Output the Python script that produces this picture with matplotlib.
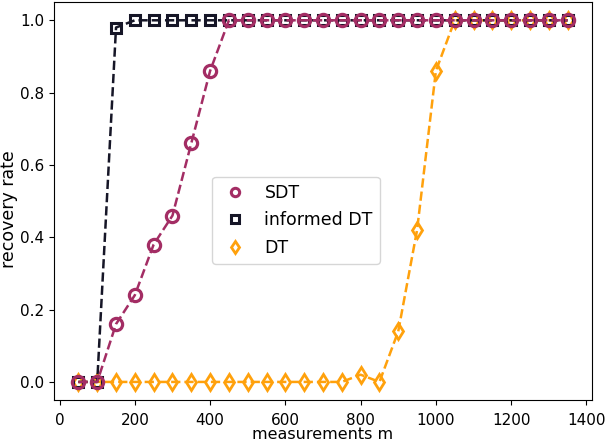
import matplotlib
matplotlib.use("Agg")
import matplotlib.pyplot as plt
from matplotlib.lines import Line2D

m = list(range(50, 1401, 50))[:27]

sdt = [0, 0, 0.16, 0.24, 0.38, 0.46, 0.66, 0.86] + [1.0] * 19
informed_dt = [0, 0, 0.98] + [1.0] * 24
dt = [0] * 15 + [0.02, 0, 0.14, 0.42, 0.86] + [1.0] * 7

c_sdt = "#a32d64"
c_inf = "#161627"
c_dt = "#ffa10c"

fig = plt.figure(figsize=(6.06, 4.42), dpi=100)
ax = fig.add_axes([0.089, 0.095, 0.888, 0.9])

ax.plot(m, dt, ls="--", color=c_dt, marker="d", ms=8, mfc="none", mew=2, lw=1.8)
ax.plot(m, informed_dt, ls="--", color=c_inf, marker="s", ms=7.5, mfc="none", mew=2.2, lw=1.8)
ax.plot(m, sdt, ls="--", color=c_sdt, marker="o", ms=8.8, mfc="none", mew=2.3, lw=1.8)

handles = [
    Line2D([], [], ls="none", color=c_sdt, marker="o", ms=6, mfc="none", mew=2.2, label="SDT"),
    Line2D([], [], ls="none", color=c_inf, marker="s", ms=6, mfc="none", mew=2.2, label="informed DT"),
    Line2D([], [], ls="none", color=c_dt, marker="d", ms=6.5, mfc="none", mew=2, label="DT"),
]
ax.legend(handles=handles, loc="center", bbox_to_anchor=(0.45, 0.452), fontsize=12.5,
          handlelength=1.8, handletextpad=0.8, borderpad=0.4, labelspacing=0.55)

ax.set_xticks(range(0, 1401, 200))
ax.tick_params(labelsize=11)
ax.tick_params(axis="x", pad=6)
ax.set_xlabel("measurements m", fontsize=11.5, labelpad=-1)
ax.set_ylabel("recovery rate", fontsize=12.5)
ax.yaxis.set_label_coords(-0.067, 0.48)

fig.savefig("out.png", dpi=100)
